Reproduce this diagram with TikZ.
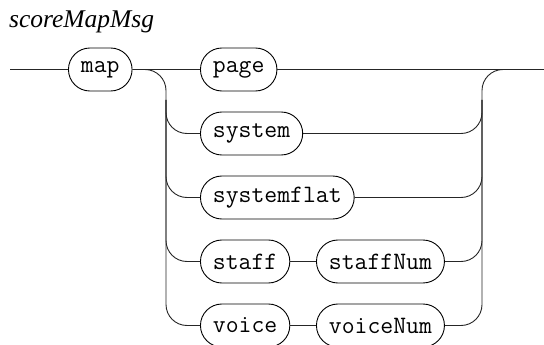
\documentclass[tikz,border=0pt]{standalone}
\usepackage{fontspec}
\setmainfont{Liberation Serif}
\begin{document}
\begin{tikzpicture}[x=1pt,y=1pt,
  term/.style={draw=black,line width=0.9pt,rounded corners=21.5pt,minimum height=43pt,
    inner xsep=12.5pt,inner ysep=0pt,font=\fontsize{25}{25}\selectfont\ttfamily,anchor=west},
  rr/.style={line width=0.9pt,draw=black!85,rounded corners=21pt},
  ln/.style={line width=0.9pt,draw=black!85}]
\useasboundingbox (0,0) rectangle (544,-345);
\node[font=\fontsize{25.5}{25.5}\selectfont\itshape,anchor=base west,inner sep=0pt] (title) at (9,-27.5) {scoreMapMsg};
\coordinate (start) at (10,-69.5);
\coordinate (finish) at (544,-69.5);
\node[term] (map) at (68,-69.5) {map};
\node[term] (page) at (200,-69.5) {page};
\node[term] (system) at (200,-133.5) {system};
\node[term] (systemflat) at (200,-197.5) {systemflat};
\node[term] (staff) at (200,-261.5) {staff};
\node[term] (staffNum) at (316,-261.5) {staffNum};
\node[term] (voice) at (200,-325.5) {voice};
\node[term] (voiceNum) at (316,-325.5) {voiceNum};
\coordinate (Lbot) at (166,-325.5);
\coordinate (Ltop) at (166,-100);
\coordinate (Rtop) at (482,-69.5);
\coordinate (Rmid) at (482,-100);
\draw[ln] (start) -- (map.west);
\draw[ln] (map.east) -- (page.west);
\draw[ln] (page.east) -- (finish);
\draw[ln] (staff.east) -- (staffNum.west);
\draw[ln] (voice.east) -- (voiceNum.west);
\draw[rr] (map.east) -| (Lbot) -- (voice.west);
\draw[rr] (Ltop) |- (system.west);
\draw[rr] (Ltop) |- (systemflat.west);
\draw[rr] (Ltop) |- (staff.west);
\draw[rr] (voiceNum.east) -| (Rtop) -- (finish);
\draw[rr] (system.east) -| (Rmid);
\draw[rr] (systemflat.east) -| (Rmid);
\draw[rr] (staffNum.east) -| (Rmid);
\end{tikzpicture}
\end{document}
